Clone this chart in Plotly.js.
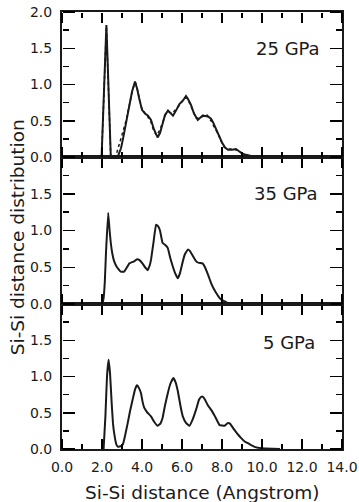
<!DOCTYPE html>
<html>
<head>
<meta charset="utf-8">
<script src="https://cdn.plot.ly/plotly-3.0.1.min.js"></script>
<style>html,body{margin:0;padding:0;background:#fff;}#chart{width:359px;height:502px;}</style>
</head>
<body>
<div id="chart"></div>
<script>
// 25 GPa (solid)
const x25a = [1.98,2.22,2.44,2.78,2.85,2.95,3.05,3.2,3.35,3.5,3.65,3.75,3.85,4.0,4.15,4.3,4.45,4.6,4.78,4.9,5.03,5.15,5.3,5.42,5.55,5.7,5.87,6.05,6.2,6.3,6.45,6.6,6.79,6.95,7.1,7.3,7.45,7.55,7.7,7.85,8.0,8.15,8.3,8.5,8.7,8.85,9.0,9.2,9.5,9.97];
const y25a = [0,1.82,0,0,0.05,0.12,0.25,0.45,0.7,0.9,1.04,0.95,0.82,0.65,0.6,0.57,0.51,0.38,0.27,0.33,0.46,0.58,0.64,0.6,0.57,0.64,0.73,0.78,0.84,0.8,0.72,0.6,0.51,0.55,0.57,0.56,0.53,0.48,0.38,0.3,0.2,0.13,0.1,0.1,0.11,0.08,0.05,0.03,0.01,0];
// 25 GPa (dashed)
const x25b = [1.98,2.22,2.44,2.65,2.75,2.9,3.05,3.2,3.4,3.55,3.68,3.8,3.95,4.1,4.3,4.45,4.6,4.75,4.9,5.05,5.2,5.35,5.5,5.7,5.9,6.1,6.22,6.35,6.5,6.7,6.85,7.05,7.25,7.45,7.6,7.8,7.95,8.1,8.3,8.55,8.8,9.0,9.3,9.8];
const y25b = [0,1.8,0,0,0.07,0.2,0.35,0.5,0.75,0.95,1.02,0.9,0.7,0.62,0.55,0.48,0.35,0.3,0.38,0.5,0.6,0.62,0.6,0.66,0.72,0.8,0.82,0.76,0.66,0.54,0.53,0.58,0.58,0.5,0.42,0.32,0.22,0.14,0.11,0.11,0.09,0.05,0.02,0];
// 35 GPa
const x35 = [2.02,2.08,2.14,2.2,2.31,2.38,2.44,2.52,2.61,2.75,2.94,3.11,3.25,3.36,3.5,3.61,3.75,3.86,4.03,4.18,4.28,4.38,4.45,4.58,4.7,4.8,4.9,5.03,5.18,5.29,5.42,5.54,5.67,5.79,5.9,6.04,6.15,6.29,6.4,6.55,6.71,6.85,7.04,7.15,7.3,7.46,7.6,7.71,7.85,7.96,8.1,8.3,8.5];
const y35 = [0,0.08,0.3,0.7,1.24,1.0,0.83,0.68,0.58,0.5,0.44,0.44,0.5,0.55,0.57,0.58,0.61,0.6,0.55,0.49,0.46,0.52,0.6,0.85,1.08,1.06,1.0,0.83,0.8,0.76,0.62,0.51,0.41,0.35,0.42,0.58,0.68,0.74,0.72,0.65,0.58,0.56,0.55,0.5,0.4,0.28,0.2,0.15,0.09,0.06,0.04,0.01,0];
// 5 GPa
const x5 = [2.08,2.17,2.25,2.33,2.4,2.48,2.55,2.63,2.72,2.8,2.95,3.05,3.15,3.28,3.4,3.53,3.65,3.75,3.85,3.95,4.03,4.11,4.25,4.45,4.6,4.78,4.92,5.03,5.15,5.29,5.42,5.57,5.68,5.79,5.92,6.04,6.2,6.37,6.55,6.71,6.85,6.96,7.05,7.13,7.3,7.46,7.65,7.88,8.13,8.3,8.4,8.63,8.8,8.96,9.15,9.3,9.63,10.0,10.9];
const y5 = [0,0.45,1.0,1.23,1.05,0.65,0.35,0.18,0.06,0.03,0.04,0.07,0.18,0.35,0.52,0.68,0.82,0.88,0.84,0.77,0.65,0.57,0.51,0.45,0.38,0.32,0.35,0.43,0.6,0.77,0.9,0.98,0.92,0.8,0.6,0.45,0.36,0.32,0.42,0.55,0.68,0.72,0.72,0.69,0.6,0.54,0.45,0.33,0.32,0.36,0.35,0.26,0.2,0.15,0.1,0.08,0.03,0.01,0];

const panelLabels = ['25 GPa','35 GPa','5 GPa'];
const xMajor = [0,2,4,6,8,10,12,14];
const xMinor = [1,3,5,7,9,11,13];
const yMajorTop = [0,0.5,1,1.5,2];
const yMajorOther = [0,0.5,1,1.5];
const yMajorAll = [0,0.5,1,1.5,2];
const yMinor = [0.25,0.75,1.25,1.75];

const FONT = 'DejaVu Sans, Liberation Sans, Arial, sans-serif';
const INK = '#1a1a1a';

const traces = [
  {x:x25a, y:y25a, xaxis:'x3', yaxis:'y3', mode:'lines', line:{color:INK, width:2}},
  {x:x25b, y:y25b, xaxis:'x3', yaxis:'y3', mode:'lines', line:{color:INK, width:1.5, dash:'dot'}},
  {x:x35, y:y35, xaxis:'x2', yaxis:'y2', mode:'lines', line:{color:INK, width:2, shape:'spline', smoothing:0.25}},
  {x:x5, y:y5, xaxis:'x', yaxis:'y', mode:'lines', line:{color:INK, width:2, shape:'spline', smoothing:0.25}}
];

function xax(anchor, labels){
  return {
    anchor: anchor, range:[0,14], tickmode:'array', tickvals:xMajor, tickformat:'.1f',
    showticklabels: labels, ticks:'', ticklabelstandoff:4,
    showline:true, linewidth:2, linecolor:INK, mirror:true, showgrid:false, zeroline:false,
    tickfont:{family:FONT, size:14, color:INK}
  };
}
function yax(domain, anchor, vals){
  return {
    domain: domain, anchor: anchor, range:[0,2], tickmode:'array', tickvals:vals, tickformat:'.1f',
    ticks:'', ticklabelstandoff:5,
    showline:true, linewidth:2, linecolor:INK, mirror:true, showgrid:false, zeroline:false,
    tickfont:{family:FONT, size:14, color:INK}
  };
}

const d1 = 145/437, d2 = 292/437;
const domains = [[0,d1],[d1,d2],[d2,1]];
const dataX = ['x','x2','x3'];
const dataY = ['y','y2','y3'];

const layout = {
  width:359, height:502,
  margin:{l:62, r:17, t:12, b:53},
  paper_bgcolor:'#ffffff', plot_bgcolor:'rgba(0,0,0,0)',
  showlegend:false,
  xaxis: xax('y', true),
  xaxis2: xax('y2', false),
  xaxis3: xax('y3', false),
  yaxis: yax(domains[0], 'x', yMajorOther),
  yaxis2: yax(domains[1], 'x2', yMajorOther),
  yaxis3: yax(domains[2], 'x3', yMajorTop),
  annotations:[
    {xref:'x3', yref:'y3', x:13.0, y:1.5, xanchor:'right', yanchor:'middle', text:panelLabels[0], showarrow:false, font:{family:FONT, size:18, color:INK}},
    {xref:'x2', yref:'y2', x:12.9, y:1.5, xanchor:'right', yanchor:'middle', text:panelLabels[1], showarrow:false, font:{family:FONT, size:18, color:INK}},
    {xref:'x', yref:'y', x:12.75, y:1.47, xanchor:'right', yanchor:'middle', text:panelLabels[2], showarrow:false, font:{family:FONT, size:18, color:INK}},
    {xref:'paper', yref:'paper', x:-0.16, y:0.485, xanchor:'center', yanchor:'middle', textangle:-90, text:'Si-Si distance distribution', showarrow:false, font:{family:FONT, size:18.5, color:INK}},
    {xref:'paper', yref:'paper', x:0.5, y:-0.1, xanchor:'center', yanchor:'middle', text:'Si-Si distance (Angstrom)', showarrow:false, font:{family:FONT, size:18.5, color:INK}}
  ]
};

// Tick-only overlay axes: ticks point outward from the side they sit on,
// so each is placed on the opposite edge to make its ticks point into the panel.
let n = 4;
function tickAxisX(over, pos, side, vals, len){
  const name = 'xaxis' + n;
  layout[name] = {overlaying: over, anchor:'free', position: pos, side: side, range:[0,14],
    tickmode:'array', tickvals: vals, ticks:'outside', ticklen: len, tickwidth:1.5, tickcolor:'#000',
    showticklabels:false, showline:false, showgrid:false, zeroline:false};
  return 'x' + n;
}
function tickAxisY(over, pos, side, vals, len){
  const name = 'yaxis' + n;
  layout[name] = {overlaying: over, anchor:'free', position: pos, side: side, range:[0,2],
    tickmode:'array', tickvals: vals, ticks:'outside', ticklen: len, tickwidth:1.5, tickcolor:'#000',
    showticklabels:false, showline:false, showgrid:false, zeroline:false};
  return 'y' + n;
}
for (let p = 0; p < 3; p++){
  const xa = dataX[p], ya = dataY[p], dom = domains[p];
  const xSpecs = [[dom[0],'top',xMajor,10],[dom[0],'top',xMinor,5],[dom[1],'bottom',xMajor,10],[dom[1],'bottom',xMinor,5]];
  xSpecs.forEach(s => {
    const id = tickAxisX(xa, s[0], s[1], s[2], s[3]);
    traces.push({x:[null], y:[null], xaxis:id, yaxis:ya, mode:'lines', hoverinfo:'skip'});
    n++;
  });
  const ySpecs = [[0,'right',yMajorAll,12],[0,'right',yMinor,6],[1,'left',yMajorAll,12],[1,'left',yMinor,6]];
  ySpecs.forEach(s => {
    const id = tickAxisY(ya, s[0], s[1], s[2], s[3]);
    traces.push({x:[null], y:[null], xaxis:xa, yaxis:id, mode:'lines', hoverinfo:'skip'});
    n++;
  });
}

Plotly.newPlot('chart', traces, layout, {staticPlot:true});
</script>
</body>
</html>
